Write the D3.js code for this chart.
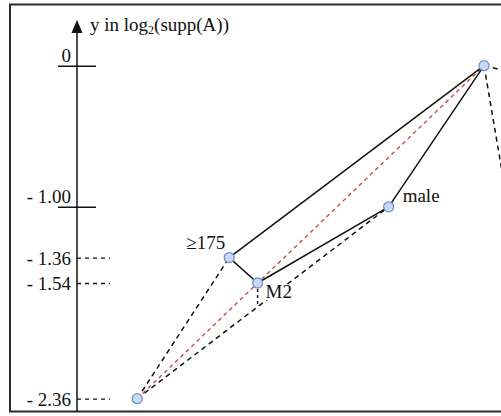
<!DOCTYPE html>
<html>
<head>
<meta charset="utf-8">
<script src="https://cdn.jsdelivr.net/npm/d3@7"></script>
<style>
  html, body { margin: 0; padding: 0; background: #fff; }
  svg { display: block; }
  text { font-family: "Liberation Serif", "Times New Roman", serif; fill: #111; }
</style>
</head>
<body>
<svg id="chart" width="501" height="416"></svg>
<script>
// Lattice nodes: horizontal layout position and log2 support
const nodeNames = ["bottom", "ge175", "M2", "male", "top", "outA", "outB"];
const nodeLabels = ["", "≥175", "M2", "male", "", "", ""];
const nodeX = [0.142, 0.359, 0.426, 0.735, 0.96, 1.14, 1.05];
const nodeY = [-2.36, -1.36, -1.54, -1.00, 0, -0.13, -1.59];
const visibleNodes = ["bottom", "ge175", "M2", "male", "top"];

// Edges of the lattice
const solidEdges = [["ge175", "top"], ["ge175", "M2"], ["M2", "male"], ["male", "top"]];
const dashedEdges = [["bottom", "ge175"], ["bottom", "male"], ["top", "outA"], ["top", "outB"]];
const redEdges = [["bottom", "top"]];

// Axis ticks
const solidTickValues = [0, -1.00];
const solidTickLabels = ["0", "- 1.00"];
const dashedTickValues = [-1.36, -1.54, -2.36];
const dashedTickLabels = ["- 1.36", "- 1.54", "- 2.36"];
const axisTitle = "y in log";

const svg = d3.select("#chart");
const FS = 19;

const x = d3.scaleLinear().domain([0, 1]).range([77, 501]);
const y = d3.scaleLinear().domain([0, -2.36]).range([65.7, 398.7]);

const node = {};
nodeNames.forEach((n, i) => node[n] = { name: n, label: nodeLabels[i], x: nodeX[i], y: nodeY[i] });

// Frame
svg.append("rect")
  .attr("x", 10).attr("y", 4.5)
  .attr("width", 520).attr("height", 407)
  .attr("fill", "none").attr("stroke", "#2a2a2a").attr("stroke-width", 2);

// Vertical axis with arrow head
const ax = x(0);
svg.append("line")
  .attr("x1", ax).attr("x2", ax).attr("y1", 30).attr("y2", 411.5)
  .attr("stroke", "#111").attr("stroke-width", 1.5);
svg.append("path")
  .attr("d", `M${ax},20 L${ax - 5.5},33 L${ax + 5.5},33 Z`)
  .attr("fill", "#111");

const title = svg.append("text").attr("x", 90).attr("y", 31).attr("font-size", FS);
title.append("tspan").text(axisTitle);
title.append("tspan").attr("font-size", 12).attr("dy", 3).text("2");
title.append("tspan").attr("dy", -3).text("(supp(A))");

// Solid ticks: line crossing the axis, label sitting on it
const solidAxis = d3.axisLeft(y)
  .tickValues(solidTickValues)
  .tickFormat((d, i) => solidTickLabels[i])
  .tickSize(0).tickPadding(6);
const gS = svg.append("g").attr("transform", `translate(${ax},0)`).call(solidAxis);
gS.select(".domain").remove();
gS.selectAll("text")
  .attr("font-size", FS).attr("fill", "#111").attr("dy", -4);
gS.selectAll(".tick line")
  .attr("x1", -19).attr("x2", 19)
  .attr("stroke", "#111").attr("stroke-width", 1.5);

// Dashed ticks: dashed stub to the right, label centred on it
const dashedAxis = d3.axisLeft(y)
  .tickValues(dashedTickValues)
  .tickFormat((d, i) => dashedTickLabels[i])
  .tickSize(0).tickPadding(6);
const gD = svg.append("g").attr("transform", `translate(${ax},0)`).call(dashedAxis);
gD.select(".domain").remove();
gD.selectAll("text")
  .attr("font-size", FS).attr("fill", "#111").attr("dy", 7);
gD.selectAll(".tick line")
  .attr("x1", 0).attr("x2", 33)
  .attr("stroke", "#111").attr("stroke-width", 1.3)
  .attr("stroke-dasharray", "4,4");

// Edges
function drawEdges(list, stroke, dash, width) {
  svg.append("g").selectAll("line").data(list).join("line")
    .attr("x1", d => x(node[d[0]].x)).attr("y1", d => y(node[d[0]].y))
    .attr("x2", d => x(node[d[1]].x)).attr("y2", d => y(node[d[1]].y))
    .attr("stroke", stroke).attr("stroke-width", width)
    .attr("stroke-dasharray", dash);
}
drawEdges(dashedEdges, "#111", "5,4", 1.5);
drawEdges(redEdges, "#c0504d", "4,3.5", 1.4);

// Short dashed drop from M2 onto the bottom-male edge
const m2 = node["M2"], b = node["bottom"], ml = node["male"];
const tDrop = (x(m2.x) - x(b.x)) / (x(ml.x) - x(b.x));
const yDrop = y(b.y) + tDrop * (y(ml.y) - y(b.y));
svg.append("line")
  .attr("x1", x(m2.x)).attr("x2", x(m2.x))
  .attr("y1", y(m2.y)).attr("y2", yDrop)
  .attr("stroke", "#111").attr("stroke-width", 1.5).attr("stroke-dasharray", "3,3");

drawEdges(solidEdges, "#111", null, 1.5);

// Node labels (M2 sits on a white patch)
const labelOffset = { ge175: [-43, -9], M2: [8, 15], male: [14, -5] };
const lab = svg.append("g").selectAll("g")
  .data(visibleNodes.filter(n => node[n].label))
  .join("g")
  .attr("transform", d => `translate(${x(node[d].x) + labelOffset[d][0]},${y(node[d].y) + labelOffset[d][1]})`);
lab.filter(d => d === "M2").append("rect")
  .attr("x", -1).attr("y", -13).attr("width", 28).attr("height", 15).attr("fill", "#fff");
lab.append("text").attr("font-size", FS).text(d => node[d].label);

// Nodes
svg.append("g").selectAll("circle")
  .data(visibleNodes.map(n => node[n]))
  .join("circle")
  .attr("cx", d => x(d.x)).attr("cy", d => y(d.y)).attr("r", 5)
  .attr("fill", "#c6daf3").attr("stroke", "#6e94cf").attr("stroke-width", 1.3);
</script>
</body>
</html>
